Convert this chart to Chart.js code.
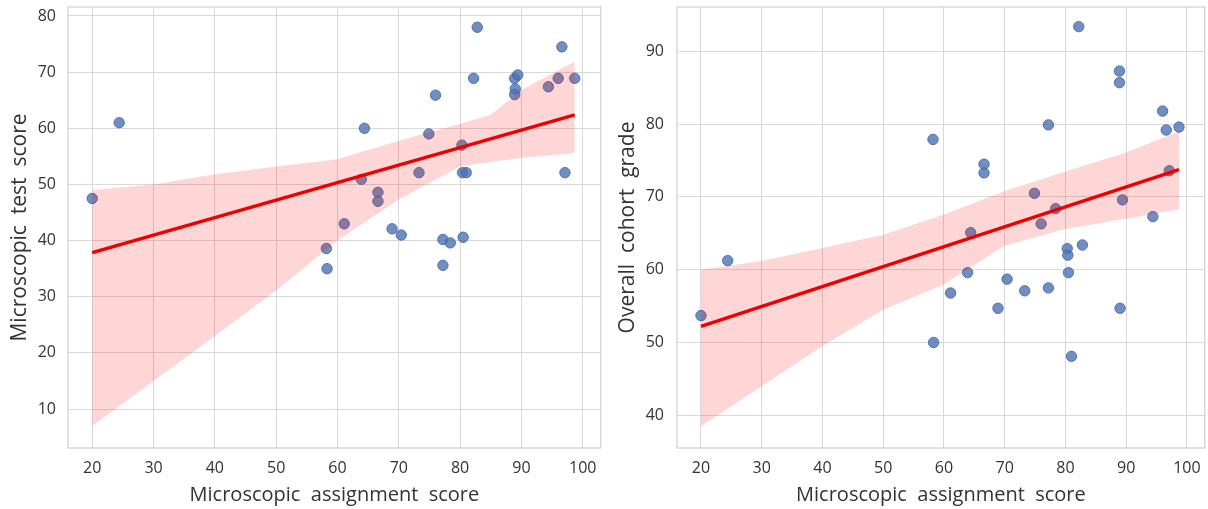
<!DOCTYPE html>
<html>
<head>
<meta charset="utf-8">
<script src="https://cdn.jsdelivr.net/npm/chart.js@4"></script>
<style>
  html, body { margin: 0; padding: 0; background: #fff; overflow: hidden; }
  #wrap { position: relative; width: 1208px; height: 509px; }
  .box { position: absolute; top: 0; height: 509px; }
</style>
</head>
<body>
<div id="wrap">
  <div class="box" style="left:0;width:607px"><canvas id="left"></canvas></div>
  <div class="box" style="left:605px;width:606px"><canvas id="right"></canvas></div>
</div>
<script>
// assignment score, shared by both panels
const assignment = [20, 24.4, 58.2, 58.3, 61.1, 63.9, 64.4, 66.6, 66.6, 68.9, 70.4, 73.3, 74.9, 76.0, 77.2, 77.2,
  78.4, 80.3, 80.4, 80.5, 81.0, 82.2, 82.8, 88.9, 88.9, 89.0, 89.4, 94.4, 96.0, 96.6, 97.1, 98.7];
const testScore = [47.5, 61.0, 38.6, 35.0, 43.0, 50.9, 60.0, 48.6, 47.0, 42.1, 41.0, 52.1, 59.0, 65.9, 40.2, 35.6,
  39.6, 57.0, 52.1, 40.6, 52.1, 68.9, 78.0, 68.9, 66.0, 67.0, 69.5, 67.4, 68.9, 74.5, 52.1, 68.9];
const cohortGrade = [53.7, 61.25, 77.9, 50.0, 56.8, 59.6, 65.1, 74.5, 73.3, 54.7, 58.7, 57.1, 70.5, 66.3, 79.9, 57.5,
  68.4, 62.9, 62.0, 59.6, 48.1, 93.4, 63.4, 87.3, 85.7, 54.7, 69.6, 67.3, 81.8, 79.2, 73.6, 79.6];

// fitted line + confidence band
const fitX = [20, 98.7];
const testFit = [37.85, 62.4];
const cohortFit = [52.2, 73.75];

const testBandX = [20, 30, 40, 50, 60, 70, 80, 85, 90, 98.7];
const testBandLow = [7.0, 15.0, 23.0, 31.1, 40.0, 47.3, 53.2, 54.0, 54.7, 55.6];
const testBandHigh = [49.0, 50.0, 51.8, 53.2, 54.5, 57.8, 60.8, 62.4, 66.8, 71.9];

const cohortBandX = [20, 30, 40, 50, 60, 70, 80, 90, 98.7];
const cohortBandLow = [38.5, 44.0, 49.5, 54.5, 58.0, 63.3, 65.6, 67.0, 68.3];
const cohortBandHigh = [60.0, 61.2, 63.0, 64.8, 67.6, 70.8, 73.5, 76.1, 79.0];

const xTicks = [20, 30, 40, 50, 60, 70, 80, 90, 100];
const testTicks = [10, 20, 30, 40, 50, 60, 70, 80];
const cohortTicks = [40, 50, 60, 70, 80, 90];

const FONT = "'Open Sans', 'Noto Sans', sans-serif";
const TEXT = "#333333";
const GRID = "#d9d9d9";

const pts = (xs, ys) => xs.map((x, i) => ({ x: x, y: ys[i] }));

const frame = {
  id: "frame",
  beforeDatasetsDraw(chart) {
    const a = chart.chartArea, c = chart.ctx;
    c.save();
    c.strokeStyle = "#cfcfcf";
    c.lineWidth = 1.2;
    c.strokeRect(a.left, a.top, a.right - a.left, a.bottom - a.top);
    c.restore();
  }
};

function makeChart(id, o) {
  new Chart(document.getElementById(id), {
    type: "scatter",
    data: {
      datasets: [
        {
          data: pts(assignment, o.ys),
          backgroundColor: "rgba(76,114,176,0.8)",
          borderColor: "rgba(70,106,170,0.9)",
          borderWidth: 1,
          pointRadius: 5.2,
          order: 3
        },
        {
          type: "line",
          data: pts(o.bandX, o.low),
          borderWidth: 0,
          pointRadius: 0,
          fill: false,
          order: 2
        },
        {
          type: "line",
          data: pts(o.bandX, o.high),
          borderWidth: 0,
          pointRadius: 0,
          fill: "-1",
          backgroundColor: "rgba(255,0,0,0.16)",
          order: 2
        },
        {
          type: "line",
          data: pts(fitX, o.fit),
          borderColor: "#ee0000",
          borderWidth: 3.4,
          pointRadius: 0,
          fill: false,
          order: 1
        }
      ]
    },
    options: {
      responsive: true,
      maintainAspectRatio: false,
      animation: false,
      layout: { padding: { top: 7, right: o.padRight, left: 0, bottom: 0 } },
      plugins: { legend: { display: false }, tooltip: { enabled: false } },
      scales: {
        x: {
          type: "linear",
          min: 16.05,
          max: 102.95,
          afterBuildTicks: s => { s.ticks = xTicks.map(v => ({ value: v })); },
          afterFit: s => { s.height = 61; },
          grid: { color: GRID, lineWidth: 1, drawTicks: true, tickLength: 12, tickColor: "rgba(0,0,0,0)" },
          border: { display: false },
          ticks: { color: TEXT, font: { family: FONT, size: 16, lineHeight: 0.8 }, padding: 2, maxRotation: 0 },
          title: { display: true, text: "Microscopic  assignment  score", color: TEXT,
                   font: { family: FONT, size: 20 }, padding: { top: 0, bottom: 2 } }
        },
        y: {
          min: o.yMin,
          max: o.yMax,
          afterBuildTicks: s => { s.ticks = o.yTicks.map(v => ({ value: v })); },
          afterFit: s => { s.width = o.yWidth; },
          grid: { color: GRID, lineWidth: 1, drawTicks: true, tickLength: o.tickPad, tickColor: "rgba(0,0,0,0)" },
          border: { display: false },
          ticks: { color: TEXT, font: { family: FONT, size: 16, lineHeight: 0.8 }, padding: 0 },
          title: { display: true, text: o.yTitle, color: TEXT,
                   font: { family: FONT, size: 21 }, padding: { top: o.titlePad, bottom: 0 } }
        }
      }
    },
    plugins: [frame]
  });
}

makeChart("left", {
  ys: testScore, fit: testFit, bandX: testBandX, low: testBandLow, high: testBandHigh,
  yMin: 3.07, yMax: 81.6, yTicks: testTicks, yTitle: "Microscopic  test  score",
  yWidth: 68, padRight: 6, tickPad: 12, titlePad: 7
});

makeChart("right", {
  ys: cohortGrade, fit: cohortFit, bandX: cohortBandX, low: cohortBandLow, high: cohortBandHigh,
  yMin: 35.5, yMax: 96.1, yTicks: cohortTicks, yTitle: "Overall  cohort  grade",
  yWidth: 72, padRight: 1, tickPad: 13, titlePad: 10
});
</script>
</body>
</html>
